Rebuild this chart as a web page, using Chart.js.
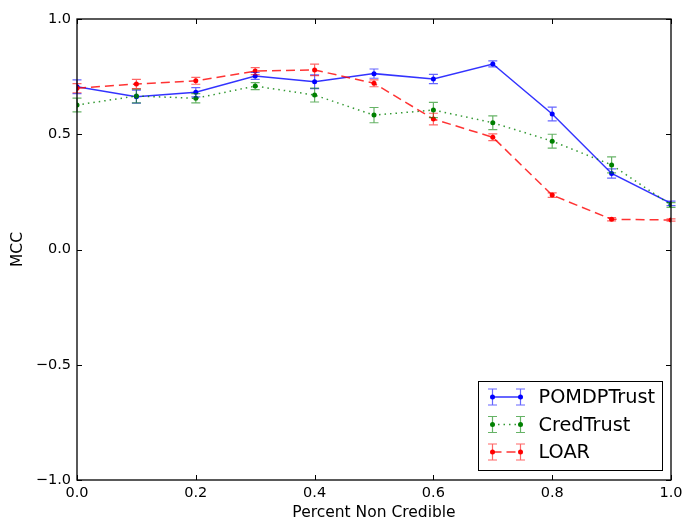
<!DOCTYPE html>
<html>
<head>
<meta charset="utf-8">
<script src="https://cdn.jsdelivr.net/npm/chart.js@4.4.0/dist/chart.umd.min.js"></script>
<style>
body { margin: 0; background: #fff; }
</style>
</head>
<body>
<canvas id="mycanvas" width="685" height="523"></canvas>
<script>
// percent non credible
var xVals = [0.0, 0.1, 0.2, 0.3, 0.4, 0.5, 0.6, 0.7, 0.8, 0.9, 1.0];

var pomdpMcc = [0.706, 0.663, 0.682, 0.753, 0.728, 0.763, 0.740, 0.805, 0.588, 0.330, 0.200];
var pomdpErr = [0.030, 0.028, 0.020, 0.015, 0.030, 0.020, 0.020, 0.013, 0.030, 0.020, 0.010];

var credMcc = [0.627, 0.666, 0.656, 0.709, 0.670, 0.583, 0.605, 0.550, 0.470, 0.367, 0.193];
var credErr = [0.030, 0.030, 0.020, 0.015, 0.030, 0.033, 0.033, 0.030, 0.030, 0.035, 0.010];

var loarMcc = [0.700, 0.718, 0.732, 0.774, 0.779, 0.721, 0.566, 0.487, 0.236, 0.131, 0.128];
var loarErr = [0.020, 0.020, 0.015, 0.015, 0.025, 0.015, 0.025, 0.015, 0.010, 0.007, 0.005];

var xTicks = [0.0, 0.2, 0.4, 0.6, 0.8, 1.0];
var yTicks = [-1.0, -0.5, 0.0, 0.5, 1.0];

var FONT = "'DejaVu Sans', sans-serif";

function pts(ys) {
	var out = [];
	for (var i in xVals) {
		out.push({ x: xVals[i], y: ys[i] });
	}
	return out;
}

function fmt(v) {
	var s = Math.abs(v).toFixed(1);
	return v < 0 ? "\u2212" + s : s;
}

var series = [
	{ label: "POMDPTrust", color: "rgba(0,0,255,0.8)", solid: "#0000ff", errColor: "rgba(0,0,255,0.6)", dash: [], data: pomdpMcc, err: pomdpErr },
	{ label: "CredTrust", color: "rgba(0,128,0,0.8)", solid: "#008000", errColor: "rgba(0,128,0,0.6)", dash: [1.5, 4], data: credMcc, err: credErr },
	{ label: "LOAR", color: "rgba(255,0,0,0.8)", solid: "#ff0000", errColor: "rgba(255,0,0,0.6)", dash: [9, 5], data: loarMcc, err: loarErr }
];

function drawErrBar(ctx, x, yTop, yBot, cap) {
	ctx.beginPath();
	ctx.moveTo(x, yTop);
	ctx.lineTo(x, yBot);
	ctx.moveTo(x - cap, yTop);
	ctx.lineTo(x + cap, yTop);
	ctx.moveTo(x - cap, yBot);
	ctx.lineTo(x + cap, yBot);
	ctx.stroke();
}

var errorBars = {
	id: "errorBars",
	afterDatasetsDraw: function(chart) {
		var ctx = chart.ctx;
		var xs = chart.scales.x, ys = chart.scales.y;
		ctx.save();
		ctx.setLineDash([]);
		ctx.lineWidth = 1.2;
		for (var s = 0; s < series.length; s++) {
			ctx.strokeStyle = series[s].errColor;
			for (var j = 0; j < xVals.length; j++) {
				var px = xs.getPixelForValue(xVals[j]);
				var v = series[s].data[j], e = series[s].err[j];
				drawErrBar(ctx, px, ys.getPixelForValue(v + e), ys.getPixelForValue(v - e), 4.5);
			}
		}
		ctx.restore();
	}
};

var frame = {
	id: "frame",
	afterDraw: function(chart) {
		var ctx = chart.ctx;
		var a = chart.chartArea;
		var xs = chart.scales.x, ys = chart.scales.y;
		ctx.save();
		ctx.strokeStyle = "#000";
		ctx.lineWidth = 1;
		ctx.setLineDash([]);
		// ticks inside on all sides
		ctx.beginPath();
		for (var i in xTicks) {
			var px = Math.round(xs.getPixelForValue(xTicks[i])) + 0.5;
			ctx.moveTo(px, a.bottom); ctx.lineTo(px, a.bottom - 5);
			ctx.moveTo(px, a.top); ctx.lineTo(px, a.top + 5);
		}
		for (var k in yTicks) {
			var py = Math.round(ys.getPixelForValue(yTicks[k])) + 0.5;
			ctx.moveTo(a.left, py); ctx.lineTo(a.left + 5, py);
			ctx.moveTo(a.right, py); ctx.lineTo(a.right - 5, py);
		}
		ctx.stroke();
		ctx.lineWidth = 1.3;
		ctx.strokeRect(a.left, a.top, a.right - a.left, a.bottom - a.top);

		// axis titles
		ctx.fillStyle = "#000";
		ctx.font = "15.5px " + FONT;
		ctx.textAlign = "center";
		ctx.textBaseline = "middle";
		ctx.fillText("Percent Non Credible", (a.left + a.right) / 2, 513);
		ctx.save();
		ctx.translate(18, (a.top + a.bottom) / 2);
		ctx.rotate(-Math.PI / 2);
		ctx.fillText("MCC", 0, 0);
		ctx.restore();

		// legend
		var bw = 184, bh = 89;
		var bx = a.right - 8.5 - bw, by = a.bottom - 9.5 - bh;
		ctx.fillStyle = "#fff";
		ctx.fillRect(bx, by, bw, bh);
		ctx.lineWidth = 1;
		ctx.strokeRect(bx, by, bw, bh);
		ctx.font = "19.3px " + FONT;
		ctx.textAlign = "left";
		for (var s = 0; s < series.length; s++) {
			var ly = by + 15.5 + s * 27.5;
			var x1 = bx + 14, x2 = bx + 42;
			ctx.strokeStyle = series[s].color;
			ctx.lineWidth = 1.5;
			ctx.setLineDash(series[s].dash);
			ctx.beginPath();
			ctx.moveTo(x1, ly); ctx.lineTo(x2, ly);
			ctx.stroke();
			ctx.setLineDash([]);
			ctx.strokeStyle = series[s].errColor;
			ctx.lineWidth = 1.2;
			drawErrBar(ctx, x1, ly - 8, ly + 8, 4.5);
			drawErrBar(ctx, x2, ly - 8, ly + 8, 4.5);
			ctx.fillStyle = series[s].solid;
			ctx.beginPath(); ctx.arc(x1, ly, 2.5, 0, Math.PI * 2); ctx.fill();
			ctx.beginPath(); ctx.arc(x2, ly, 2.5, 0, Math.PI * 2); ctx.fill();
			ctx.fillStyle = "#000";
			ctx.fillText(series[s].label, bx + 60, ly + 1);
		}
		ctx.restore();
	}
};

var datasets = [];
for (var s = 0; s < series.length; s++) {
	datasets.push({
		label: series[s].label,
		data: pts(series[s].data),
		borderColor: series[s].color,
		backgroundColor: series[s].solid,
		pointBackgroundColor: series[s].solid,
		pointBorderColor: series[s].solid,
		borderWidth: 1.5,
		borderDash: series[s].dash,
		pointRadius: 2.5,
		pointBorderWidth: 0,
		fill: false,
		tension: 0,
		order: series.length - s
	});
}

var ctx = document.getElementById("mycanvas");

var LineGraph = new Chart(ctx, {
	type: "line",
	data: { datasets: datasets },
	options: {
		responsive: false,
		animation: false,
		layout: { padding: { top: 19, right: 14, left: 0, bottom: 0 } },
		plugins: { legend: { display: false }, tooltip: { enabled: false } },
		scales: {
			x: {
				type: "linear",
				min: 0, max: 1,
				afterFit: function(scale) { scale.height = 43; scale.paddingLeft = 0; scale.paddingRight = 0; },
				afterBuildTicks: function(scale) { scale.ticks = xTicks.map(function(v) { return { value: v }; }); },
				grid: { display: false, drawTicks: false },
				border: { display: false },
				ticks: { color: "#000", padding: 5, maxRotation: 0, font: { family: FONT, size: 14.5 }, callback: function(v) { return fmt(v); } }
			},
			y: {
				type: "linear",
				min: -1, max: 1,
				afterFit: function(scale) { scale.width = 77; scale.paddingTop = 0; scale.paddingBottom = 0; },
				afterBuildTicks: function(scale) { scale.ticks = yTicks.map(function(v) { return { value: v }; }); },
				grid: { display: false, drawTicks: false },
				border: { display: false },
				ticks: { color: "#000", padding: 6, font: { family: FONT, size: 14.5 }, callback: function(v) { return fmt(v); } }
			}
		}
	},
	plugins: [errorBars, frame]
});
</script>
</body>
</html>
